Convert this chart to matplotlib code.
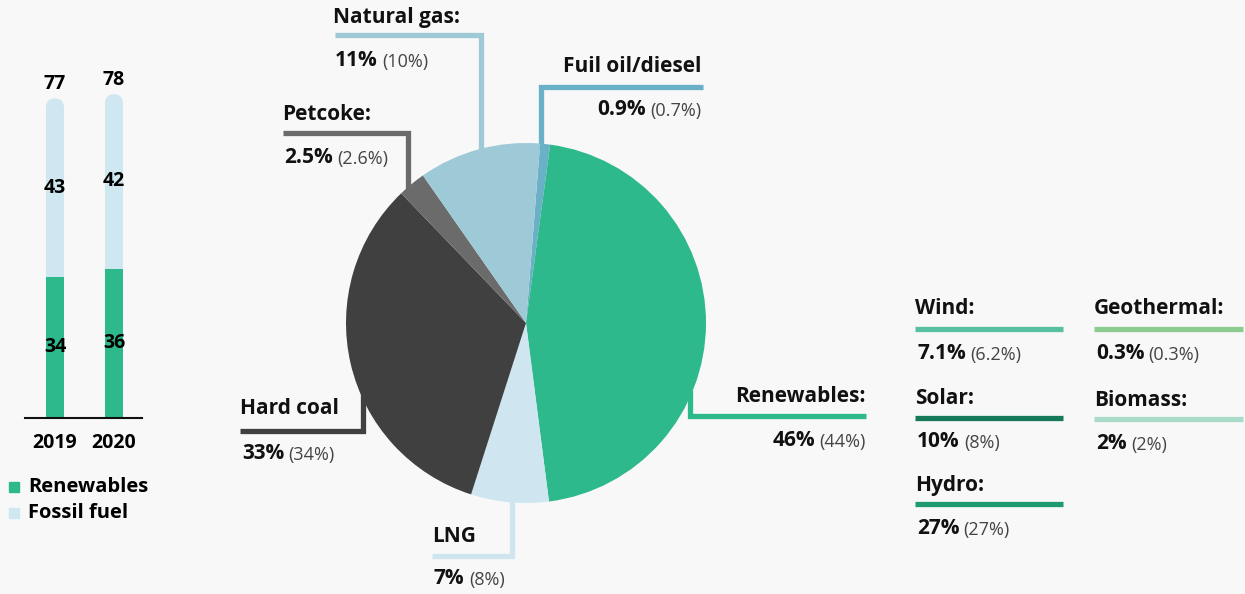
import matplotlib.pyplot as plt
from matplotlib.patches import FancyBboxPatch, Rectangle
import numpy as np

plt.rcParams['font.family'] = ['Open Sans', 'DejaVu Sans']

# --- data ---
years = ["2019", "2020"]
renewables = [34, 36]
fossil = [43, 42]

pie_labels = ["Fuil oil/diesel", "Renewables:", "LNG", "Hard coal", "Petcoke:", "Natural gas:"]
pie_2020 = [0.9, 46, 7, 33, 2.5, 11]
pie_2019 = ["0.7%", "44%", "8%", "34%", "2.6%", "10%"]
pie_2020_txt = ["0.9%", "46%", "7%", "33%", "2.5%", "11%"]
pie_colors = ["#6ab0c7", "#2eb98c", "#cfe6f0", "#404040", "#6b6b6b", "#9ecad8"]

ren_labels = ["Wind:", "Solar:", "Hydro:", "Geothermal:", "Biomass:"]
ren_2020 = ["7.1%", "10%", "27%", "0.3%", "2%"]
ren_2019 = ["(6.2%)", "(8%)", "(27%)", "(0.3%)", "(2%)"]
ren_colors = ["#56c0a0", "#167a5a", "#1e9a72", "#8dcc8f", "#a8dcc8"]

BG = "#f8f8f8"
W, H = 1245, 594
fig = plt.figure(figsize=(W / 100, H / 100), dpi=100, facecolor=BG)


def fx(px):
    return px / W


def fy(py):
    return 1 - py / H


# --- overlay in pixel coords for leader lines and text ---
ov = fig.add_axes([0, 0, 1, 1], zorder=1)
ov.set_xlim(0, W)
ov.set_ylim(H, 0)
ov.axis("off")
ov.patch.set_alpha(0)

# --- stacked bars ---
bx = fig.add_axes([fx(25), fy(418), fx(142) - fx(25), fy(86) - fy(418)], zorder=2)
bx.patch.set_alpha(0)
xs = np.arange(len(years))
bw = 0.305
tops = bx.bar(xs, fossil, bw, bottom=renewables, color="#cfe7f1")
for r in tops:
    x0, w = r.get_x(), r.get_width()
    top = r.get_y() + r.get_height()
    r.set_visible(False)
    bx.add_patch(FancyBboxPatch((x0, 0), w, top,
                                boxstyle="round,pad=0,rounding_size=0.15",
                                mutation_aspect=14.5, fc="#cfe7f1", ec="none", zorder=1))
bx.bar(xs, renewables, bw, color="#2eb98c", zorder=2)
bx.set_xlim(-0.508, 1.475)
bx.set_ylim(0, 80)
for s in ["top", "right", "left"]:
    bx.spines[s].set_visible(False)
bx.spines["bottom"].set_linewidth(1.5)
bx.spines["bottom"].set_color("#111111")
bx.set_yticks([])
bx.set_xticks(xs)
bx.set_xticklabels(years, fontsize=14, fontweight="bold")
bx.tick_params(axis="x", length=0, pad=11)
for i in xs:
    r, f = renewables[i], fossil[i]
    bx.text(i, r / 2, str(r), ha="center", va="center", fontsize=14, fontweight="bold", zorder=3)
    bx.text(i, r + f / 2, str(f), ha="center", va="center", fontsize=14, fontweight="bold", zorder=3)
    bx.text(i, r + f + 1.0, str(r + f), ha="center", va="bottom", fontsize=14, fontweight="bold")

# legend
ov.add_patch(Rectangle((9, 482), 10, 10, color="#2eb98c"))
ov.add_patch(Rectangle((9, 508), 10, 10, color="#cfe7f1"))
ov.text(28, 487, "Renewables", fontsize=14.5, fontweight="bold", va="center")
ov.text(28, 513, "Fossil fuel", fontsize=14.5, fontweight="bold", va="center")

# --- pie ---
px = fig.add_axes([fx(346), fy(503), fx(706) - fx(346), fy(143) - fy(503)], zorder=3)
px.pie(pie_2020, colors=pie_colors, startangle=85.5, counterclock=False,
       wedgeprops=dict(linewidth=0))
px.set_xlim(-1, 1)
px.set_ylim(-1, 1)

LW = 3.8
TS = 15
VB = 15
VS = 13


def value_text(x, y, bold, reg, ha="left"):
    if ha == "left":
        t = ov.text(x, y, bold, fontsize=VB, fontweight="bold", ha="left", va="baseline", color="#111111")
        ov.annotate(reg, xy=(1, 0), xycoords=t, xytext=(3, 0), textcoords="offset points",
                    fontsize=VS, color="#444444", ha="left", va="bottom")
    else:
        t = ov.text(x, y, reg, fontsize=VS, ha="right", va="baseline", color="#444444")
        ov.annotate(bold, xy=(0, 0), xycoords=t, xytext=(-3, 0), textcoords="offset points",
                    fontsize=VB, fontweight="bold", ha="right", va="bottom", color="#111111")


# leader line paths and label anchors for each pie slice
leaders = [
    dict(path=[(703, 87), (541, 87), (541, 150)], lx=701, ly=66, vy=116, ha="right"),
    dict(path=[(866, 416), (690, 416), (690, 390)], lx=866, ly=396, vy=447, ha="right"),
    dict(path=[(432, 556), (512, 556), (512, 495)], lx=432, ly=537, vy=584, ha="left"),
    dict(path=[(240, 431), (363, 431), (363, 380)], lx=240, ly=409, vy=459, ha="left"),
    dict(path=[(283, 133), (408, 133), (408, 190)], lx=282, ly=114, vy=163, ha="left"),
    dict(path=[(335, 35), (481, 35), (481, 150)], lx=333, ly=18, vy=66, ha="left"),
]
for i, ld in enumerate(leaders):
    pts = np.array(ld["path"])
    ov.plot(pts[:, 0], pts[:, 1], color=pie_colors[i], lw=LW, solid_capstyle="butt",
            solid_joinstyle="miter")
    ov.text(ld["lx"], ld["ly"], pie_labels[i], fontsize=TS, fontweight="bold",
            ha=ld["ha"], va="center", color="#111111")
    value_text(ld["lx"] + (2 if ld["ha"] == "left" else 0), ld["vy"],
               pie_2020_txt[i], "(" + pie_2019[i] + ")", ha=ld["ha"])

# --- renewables breakdown ---
cols = [(915, 1063), (915, 1063), (915, 1063), (1094, 1243), (1094, 1243)]
rows = [(309, 329, 359), (399, 418, 447), (486, 504, 534), (309, 329, 359), (401, 419, 449)]
for i in range(len(ren_labels)):
    x0, x1 = cols[i]
    ly, liney, vy = rows[i]
    ov.text(x0, ly, ren_labels[i], fontsize=TS, fontweight="bold", va="center", color="#111111")
    ov.plot([x0, x1], [liney, liney], color=ren_colors[i], lw=LW, solid_capstyle="butt")
    value_text(x0 + 2, vy, ren_2020[i], ren_2019[i])

fig.savefig("out.png", dpi=100, facecolor=BG)
